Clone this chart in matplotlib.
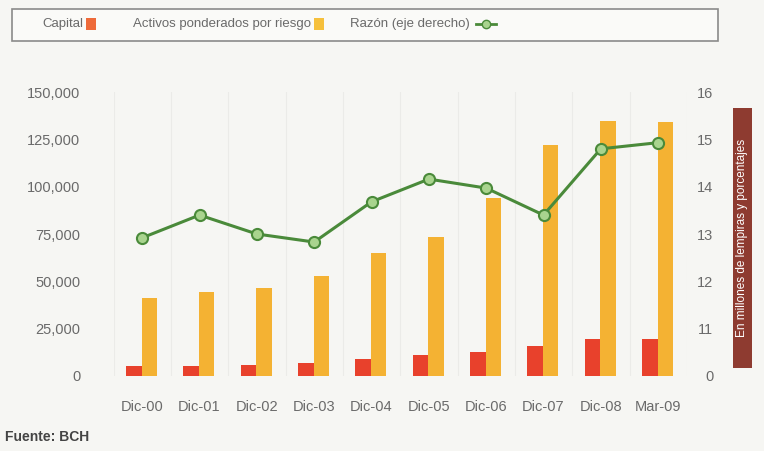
import matplotlib
matplotlib.use("Agg")
import matplotlib.pyplot as plt
import numpy as np
from matplotlib.patches import Rectangle
from matplotlib.lines import Line2D

FONT = 'Liberation Sans'
plt.rcParams['font.family'] = [FONT, 'DejaVu Sans']

categories = ['Dic-00', 'Dic-01', 'Dic-02', 'Dic-03', 'Dic-04', 'Dic-05',
              'Dic-06', 'Dic-07', 'Dic-08', 'Mar-09']
capital = [5300, 5400, 5600, 6900, 9000, 11000, 12700, 15900, 19500, 19600]
activos = [41200, 44400, 46500, 52900, 65000, 73500, 94000, 122000, 134500, 134000]
razon = [12.92, 13.40, 13.00, 12.83, 13.68, 14.16, 13.97, 13.40, 14.80, 14.93]
left_ticks = [0, 25000, 50000, 75000, 100000, 125000, 150000]
left_labels = ['0', '25,000', '50,000', '75,000', '100,000', '125,000', '150,000']
right_ticks = [10, 11, 12, 13, 14, 15, 16]
right_labels = ['0', '11', '12', '13', '14', '15', '16']
legend_labels = ['Capital', 'Activos ponderados por riesgo', 'Razón (eje derecho)']

BG = '#f6f6f3'
TXT = '#6a6a6a'
RED = '#e8412c'
ORANGE = '#f4b233'
GREEN = '#4a8a3a'
LGREEN = '#a9d48e'

W, H = 764, 451
fig = plt.figure(figsize=(W / 100, H / 100), dpi=100, facecolor=BG)
ax = fig.add_axes([0.1486, 0.1663, 0.7504, 0.6297])
ax.set_facecolor(BG)
x = np.arange(len(categories))
w = 0.27
ax.bar(x - w / 2 - 0.01, capital, width=w, color=RED, zorder=2)
ax.bar(x + w / 2 - 0.01, activos, width=w, color=ORANGE, zorder=2)
ax.set_xlim(-0.5, len(categories) - 0.5)
ax.set_ylim(0, 150000)
ax.set_yticks(left_ticks)
ax.set_yticklabels(left_labels)
ax.set_xticks(x)
ax.set_xticklabels(categories)
for b in np.arange(-0.5, len(categories), 1.0):
    ax.axvline(b, color='#ebebe8', lw=0.8, zorder=0)
ax.tick_params(axis='y', length=0, pad=24, labelsize=10.5, labelcolor=TXT)
ax.tick_params(axis='x', length=0, pad=17, labelsize=10.5, labelcolor=TXT)
for s in ax.spines.values():
    s.set_visible(False)

ax2 = ax.twinx()
ax2.plot(x, razon, color=GREEN, lw=2.2, marker='o', ms=8,
         markerfacecolor=LGREEN, markeredgecolor=GREEN, markeredgewidth=1.5, zorder=3)
ax2.set_ylim(10, 16)
ax2.set_yticks(right_ticks)
ax2.set_yticklabels(right_labels)
ax2.tick_params(axis='y', length=0, pad=19, labelsize=10.5, labelcolor=TXT)
for t in ax2.get_yticklabels():
    t.set_horizontalalignment('right')
for s in ax2.spines.values():
    s.set_visible(False)

# legend box
fig.patches.append(Rectangle((12 / W, 1 - 41 / H), 706 / W, 32 / H,
                             transform=fig.transFigure, facecolor='#fafaf8',
                             edgecolor='#8a8a8a', lw=1.2, zorder=0))
ly = 1 - 24 / H
renderer = fig.canvas.get_renderer()
starts = [42, 133, 350]
ends = []
for lab, sx in zip(legend_labels, starts):
    t = fig.text(sx / W, ly, lab, ha='left', va='center', fontsize=9.5, color=TXT)
    bb = t.get_window_extent(renderer=renderer)
    ends.append(bb.x1)
e0 = ends[0] + 3
fig.patches.append(Rectangle((e0 / W, ly - 6 / H), 10 / W, 12 / H,
                             transform=fig.transFigure, facecolor='#ee6a3a', edgecolor='none'))
e1 = ends[1] + 3
fig.patches.append(Rectangle((e1 / W, ly - 6 / H), 10 / W, 12 / H,
                             transform=fig.transFigure, facecolor='#f6c03c', edgecolor='none'))
e2 = ends[2] + 6
fig.lines.append(Line2D([e2 / W, (e2 + 20) / W], [ly, ly], transform=fig.transFigure,
                        color=GREEN, lw=2))
fig.lines.append(Line2D([(e2 + 10) / W], [ly], transform=fig.transFigure, color=GREEN,
                        marker='o', ms=6, markerfacecolor=LGREEN, markeredgecolor=GREEN))

# right side label box
fig.patches.append(Rectangle((733 / W, 1 - 368 / H), 19 / W, 260 / H,
                             transform=fig.transFigure, facecolor='#8e3b30', edgecolor='none'))
fig.text(742.5 / W, 1 - 238 / H, 'En millones de lempiras y porcentajes', rotation=90,
         ha='center', va='center', fontsize=8.5, color='white')

fig.text(5 / W, 1 - 437 / H, 'Fuente: BCH', ha='left', va='center', fontsize=10,
         fontweight='bold', color='#444444')

fig.savefig('out.png', dpi=100, facecolor=BG)
